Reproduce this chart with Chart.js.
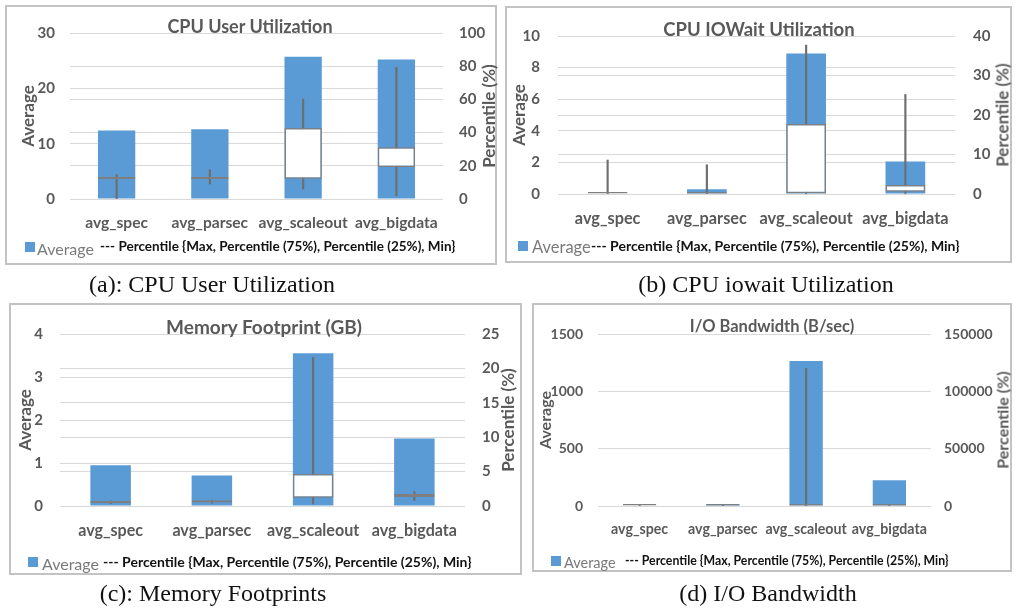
<!DOCTYPE html>
<html>
<head>
<meta charset="utf-8">
<script src="https://cdn.jsdelivr.net/npm/chart.js@4.4.0/dist/chart.umd.min.js"></script>
<style>
  body { margin: 0; width: 1016px; height: 611px; background: #fff; position: relative; overflow: hidden; font-family: Lato, sans-serif; }
  .panel { position: absolute; border: 2px solid #c3c3c3; box-sizing: border-box; }
  canvas { position: absolute; }
  .txt { position: absolute; white-space: nowrap; transform: translate(-50%, -50%); }
  .lbl { position: absolute; white-space: nowrap; transform: translateY(-50%); }
  .title { color: #595959; font-weight: bold; }
  .axt { color: #595959; font-weight: bold; font-size: 17px; }
  .cap { font-family: "Liberation Serif", serif; font-size: 24px; color: #111; }
  .sq { position: absolute; width: 10px; height: 10px; background: #5b9bd5; transform: translateY(-50%); }
  .lavg { color: #7a7a7a; }
  .lpct { color: #111; font-weight: bold; }
</style>
</head>
<body>
<script>
const categories = ['avg_spec', 'avg_parsec', 'avg_scaleout', 'avg_bigdata'];
const percentileText = '--- Percentile {Max, Percentile (75%), Percentile (25%), Min}';

// (a) CPU user utilization
const cpuUserAvg = [12.4, 12.6, 25.7, 25.2];
const cpuUserMin = [0, 9, 6, 2];
const cpuUserP25 = [12.0, 12.0, 12.2, 19.3];
const cpuUserP75 = [13.4, 13.4, 42.8, 31.1];
const cpuUserMax = [14.7, 17.7, 60.2, 79.3];

// (b) CPU iowait utilization
const iowaitAvg = [0.03, 0.3, 8.9, 2.05];
const iowaitMin = [0, 0, 0, 0];
const iowaitP25 = [0, 0, 0.2, 0.6];
const iowaitP75 = [0.5, 0.5, 17.7, 2.3];
const iowaitMax = [8.6, 7.4, 37.7, 25.2];

// (c) memory footprint
const memAvg = [0.95, 0.71, 3.55, 1.57];
const memMin = [0.35, 0.4, 0.3, 0.8];
const memP25 = [0.45, 0.52, 1.2, 1.3];
const memP75 = [0.72, 0.82, 4.65, 1.75];
const memMax = [0.74, 0.85, 21.6, 2.1];

// (d) I/O bandwidth
const ioAvg = [5, 17, 1265, 225];
const ioMin = [0, 0, 0, 0];
const ioP25 = [0, 0, 0, 0];
const ioP75 = [1700, 1700, 1700, 1700];
const ioMax = [800, 1500, 120000, 600];

function addText(cls, str, x, y, centered, size, rotate) {
  const d = document.createElement('div');
  d.className = (centered ? 'txt ' : 'lbl ') + cls;
  d.textContent = str;
  d.style.left = x + 'px';
  d.style.top = y + 'px';
  if (size) d.style.fontSize = size + 'px';
  if (rotate) d.style.transform = 'translate(-50%, -50%) rotate(-90deg)';
  document.body.appendChild(d);
}

function makePanel(p) {
  const box = document.createElement('div');
  box.className = 'panel';
  Object.assign(box.style, { left: p.box[0] + 'px', top: p.box[1] + 'px', width: (p.box[2] - p.box[0]) + 'px', height: (p.box[3] - p.box[1]) + 'px' });
  document.body.appendChild(box);

  const cv = document.createElement('canvas');
  cv.width = p.canvas[2];
  cv.height = p.canvas[3];
  cv.style.left = p.canvas[0] + 'px';
  cv.style.top = p.canvas[1] + 'px';
  document.body.appendChild(cv);

  const leftW = p.plot[0] - p.canvas[0];
  const rightW = p.canvas[0] + p.canvas[2] - p.plot[1];
  const padTop = p.plot[2] - p.canvas[1];
  const xH = p.canvas[1] + p.canvas[3] - p.plot[3];
  const yFont = { family: 'Lato', size: p.yFont, weight: 'bold' };
  const xFont = { family: 'Lato', size: p.xFont, weight: 'bold' };

  new Chart(cv.getContext('2d'), {
    type: 'bar',
    data: {
      labels: categories,
      datasets: [
        { label: 'Box', data: p.p25.map((v, i) => [v, p.p75[i]]), yAxisID: 'y1', backgroundColor: '#ffffff', borderColor: '#7f7f7f', borderWidth: 1.5, borderSkipped: false, order: 1 },
        { label: 'Whisker', data: p.min.map((v, i) => [v, p.max[i]]), yAxisID: 'y1', backgroundColor: '#6e6e6e', barThickness: 1.5, order: 2 },
        { label: 'Average', data: p.avg, yAxisID: 'y', backgroundColor: '#5b9bd5', order: 3 }
      ]
    },
    options: {
      responsive: false,
      animation: false,
      devicePixelRatio: 1,
      datasets: { bar: { grouped: false, categoryPercentage: 1, barPercentage: 0.4 } },
      layout: { padding: { top: padTop, left: 0, right: 0, bottom: 0 } },
      plugins: { legend: { display: false }, tooltip: { enabled: false } },
      scales: {
        x: {
          grid: { display: false, drawTicks: false },
          border: { display: false },
          ticks: { padding: 15, color: '#595959', font: xFont, maxRotation: 0, autoSkip: false },
          afterFit: s => { s.height = xH; }
        },
        y: {
          position: 'left', min: 0, max: p.leftMax,
          ticks: { stepSize: p.leftStep, padding: p.padL, color: '#595959', font: yFont, callback: v => String(v) },
          grid: { color: '#d9d9d9', drawTicks: false },
          border: { display: false },
          afterFit: s => { s.width = leftW; }
        },
        y1: {
          position: 'right', min: 0, max: p.rightMax,
          ticks: { stepSize: p.rightStep, padding: p.padR, color: '#595959', font: yFont, callback: v => String(v) },
          grid: { color: '#d9d9d9', drawTicks: false },
          border: { display: false },
          afterFit: s => { s.width = rightW; }
        }
      }
    }
  });

  const midY = (p.plot[2] + p.plot[3]) / 2;
  addText('title', p.title, p.titlePos[0], p.titlePos[1], true, p.titleSize);
  addText('axt', 'Average', p.axL, midY, true, p.axSize, true);
  addText('axt', 'Percentile (%)', p.axR, midY, true, p.axSize, true);

  const sq = document.createElement('div');
  sq.className = 'sq';
  sq.style.left = p.legend[0] + 'px';
  sq.style.top = p.legend[3] + 'px';
  document.body.appendChild(sq);
  addText('lavg', 'Average', p.legend[1], p.legend[3] + 1, false, p.legSizes[0]);
  addText('lpct', percentileText, p.legend[2], p.legend[3] - 1, false, p.legSizes[1]);
  addText('cap', p.caption, p.capPos[0], p.capPos[1], true);
}

makePanel({
  title: 'CPU User Utilization', caption: '(a): CPU User Utilization',
  avg: cpuUserAvg, min: cpuUserMin, p25: cpuUserP25, p75: cpuUserP75, max: cpuUserMax,
  leftMax: 30, leftStep: 10, rightMax: 100, rightStep: 20,
  box: [5, 5, 497, 265], canvas: [7, 7, 488, 250], plot: [70, 443, 33, 199],
  padL: 15, padR: 16, yFont: 15, xFont: 15.6, axL: 27, axR: 488, axSize: 17,
  titlePos: [250, 26], titleSize: 18,
  legend: [25, 37, 100, 247], legSizes: [16, 13.5], capPos: [212, 284]
});

makePanel({
  title: 'CPU IOWait Utilization', caption: '(b) CPU iowait Utilization',
  avg: iowaitAvg, min: iowaitMin, p25: iowaitP25, p75: iowaitP75, max: iowaitMax,
  leftMax: 10, leftStep: 2, rightMax: 40, rightStep: 10,
  box: [505, 6, 1012, 263], canvas: [507, 8, 503, 250], plot: [558, 955, 36, 194],
  padL: 18, padR: 18, yFont: 15, xFont: 16.3, axL: 518, axR: 1002, axSize: 17,
  titlePos: [759, 29], titleSize: 18.5,
  legend: [518, 532, 591, 246], legSizes: [16.5, 14], capPos: [766, 284]
});

makePanel({
  title: 'Memory Footprint (GB)', caption: '(c): Memory Footprints',
  avg: memAvg, min: memMin, p25: memP25, p75: memP75, max: memMax,
  leftMax: 4, leftStep: 1, rightMax: 25, rightStep: 5,
  box: [9, 303, 522, 575], canvas: [11, 305, 509, 265], plot: [60, 465, 334, 506],
  padL: 17, padR: 17, yFont: 15, xFont: 16.1, axL: 24, axR: 507, axSize: 17,
  titlePos: [264, 326], titleSize: 19,
  legend: [28, 42, 103, 562], legSizes: [16, 14], capPos: [213, 593]
});

makePanel({
  title: 'I/O Bandwidth (B/sec)', caption: '(d) I/O Bandwidth',
  avg: ioAvg, min: ioMin, p25: ioP25, p75: ioP75, max: ioMax,
  leftMax: 1500, leftStep: 500, rightMax: 150000, rightStep: 50000,
  box: [532, 303, 1012, 572], canvas: [534, 305, 476, 265], plot: [598, 931, 334, 506],
  padL: 15, padR: 13, yFont: 14, xFont: 14.2, axL: 544, axR: 1002, axSize: 16,
  titlePos: [772, 326], titleSize: 16.5,
  legend: [551, 564, 625, 561], legSizes: [14.5, 12.3], capPos: [768, 593]
});
</script>
</body>
</html>
